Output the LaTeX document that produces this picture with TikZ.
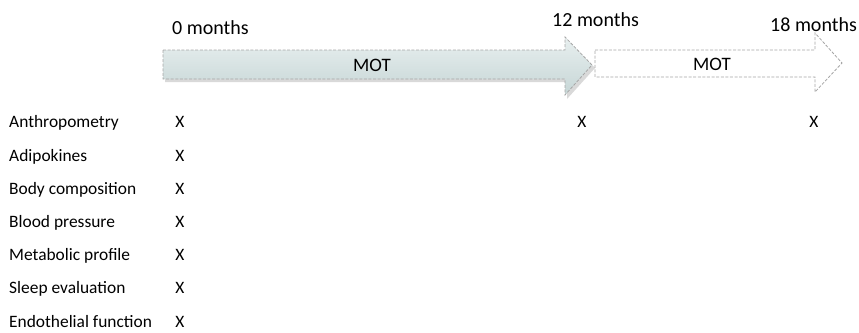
\documentclass[tikz,border=0pt]{standalone}
\usepackage{fontspec}
\setmainfont{Carlito}
\begin{document}
\begin{tikzpicture}[x=1pt,y=-1pt,
  lbl/.style={anchor=base west,inner sep=0pt,font=\fontsize{17.4}{20}\selectfont},
  xmark/.style={anchor=base,inner sep=0pt,font=\fontsize{17.4}{20}\selectfont},
  time/.style={anchor=base west,inner sep=0pt,font=\fontsize{20}{24}\selectfont},
  mot/.style={anchor=base,inner sep=0pt,font=\fontsize{19}{22}\selectfont},
  arrowedge/.style={draw=gray!70,line width=0.8pt,dash pattern=on 3pt off 1.6pt}]
\useasboundingbox (0,0) rectangle (859,332);
\definecolor{arrtop}{RGB}{232,239,239}
\definecolor{arrbot}{RGB}{198,214,214}

% first period: shaded arrow with soft shadow
\fill[black,opacity=0.15] (165,53) -- (567,53) -- (567,40) -- (595,68) -- (567,99) -- (567,82) -- (165,82) -- cycle;
\shade[top color=arrtop,bottom color=arrbot,arrowedge]
  (163,50) -- (565,50) -- (565,37) -- (592,65) -- (565,95) -- (565,79) -- (163,79) -- cycle;
% second period: open arrow
\draw[arrowedge,fill=white]
  (595,50) -- (815,50) -- (815,33) -- (842,63) -- (815,92) -- (815,77) -- (595,77) -- cycle;

\node[mot] (mot1) at (372,71) {MOT};
\node[mot] (mot2) at (712,70) {MOT};

\node[time] (t0)  at (172,34) {0 months};
\node[time] (t12) at (552,26) {12 months};
\node[time] (t18) at (770,31) {18 months};

% measurements
\node[lbl] (r1) at (9,127) {Anthropometry};
\node[lbl] (r2) at (9,161) {Adipokines};
\node[lbl] (r3) at (9,194) {Body composition};
\node[lbl] (r4) at (9,227) {Blood pressure};
\node[lbl] (r5) at (9,260) {Metabolic profile};
\node[lbl] (r6) at (9,293) {Sleep evaluation};
\node[lbl] (r7) at (9,327) {Endothelial function};

\node[xmark] (x1) at (180,127) {X};
\node[xmark] (x2) at (180,161) {X};
\node[xmark] (x3) at (180,194) {X};
\node[xmark] (x4) at (180,227) {X};
\node[xmark] (x5) at (180,260) {X};
\node[xmark] (x6) at (180,293) {X};
\node[xmark] (x7) at (180,327) {X};
\node[xmark] (x12) at (582,127) {X};
\node[xmark] (x18) at (814,127) {X};
\end{tikzpicture}
\end{document}
